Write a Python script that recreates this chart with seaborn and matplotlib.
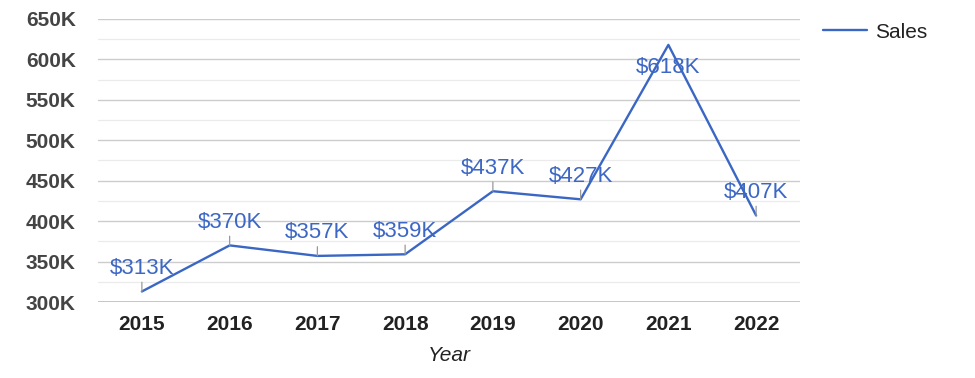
import matplotlib
matplotlib.use("Agg")
import matplotlib.pyplot as plt
import seaborn as sns
import pandas as pd

years = ["2015", "2016", "2017", "2018", "2019", "2020", "2021", "2022"]
sales = [313, 370, 357, 359, 437, 427, 618, 407]  # thousands
labels = ["$313K", "$370K", "$357K", "$359K", "$437K", "$427K", "$618K", "$407K"]
yticks = [300, 350, 400, 450, 500, 550, 600, 650]
yticklabels = ["300K", "350K", "400K", "450K", "500K", "550K", "600K", "650K"]

sns.set_style("white")
plt.rcParams['font.family'] = ['Liberation Sans', 'DejaVu Sans']

df = pd.DataFrame({"Year": years, "Sales": sales})
fig = plt.figure(figsize=(9.75, 3.78), dpi=100)
ax = fig.add_axes([98/975, 1-302/378, 702/975, 283/378])

line_color = "#3a66c4"
sns.lineplot(data=df, x="Year", y="Sales", ax=ax, color=line_color, lw=1.7, label="Sales", sort=False)

ax.set_xlim(-0.5, len(years) - 0.5)
ax.set_ylim(300, 650)
# minor gridlines
for v in range(325, 650, 50):
    ax.axhline(v, color="#ebebeb", lw=0.9, zorder=0)
for v in yticks:
    ax.axhline(v, color="#cccccc", lw=1.0, zorder=0)
ax.axhline(300, color="#bdbdbd", lw=1.2, zorder=0)

ax.set_yticks(yticks)
ax.set_yticklabels(yticklabels, fontsize=15, fontweight="bold", color="#444444")
ax.tick_params(axis="y", length=0, pad=16)
ax.tick_params(axis="x", length=0, pad=9)
for t in ax.get_xticklabels():
    t.set_fontsize(15)
    t.set_fontweight("bold")
    t.set_color("#222222")
ax.set_xlabel("Year", fontsize=15, style="italic", color="#222222", labelpad=9)
ax.set_ylabel("")
for s in ax.spines.values():
    s.set_visible(False)

for i, (v, lab) in enumerate(zip(sales, labels)):
    if i == 6:
        ax.annotate(lab, xy=(i, v), xytext=(0, -9), textcoords="offset points",
                    ha="center", va="top", fontsize=16, color="#3d67c5")
    else:
        ax.annotate(lab, xy=(i, v), xytext=(0, 9), textcoords="offset points",
                    ha="center", va="bottom", fontsize=16, color="#3d67c5",
                    arrowprops=dict(arrowstyle="-", color="#999999", lw=0.9,
                                    shrinkA=0, shrinkB=0, relpos=(0.5, 0.1)))

ax.get_legend().remove()
h, l = ax.get_legend_handles_labels()
fig.legend(h, l, loc="upper left", bbox_to_anchor=(804/975, 1-4/378), frameon=False,
           fontsize=15, handlelength=2.1, handletextpad=0.4, labelcolor="#222222")

fig.savefig("out.png", dpi=100)
